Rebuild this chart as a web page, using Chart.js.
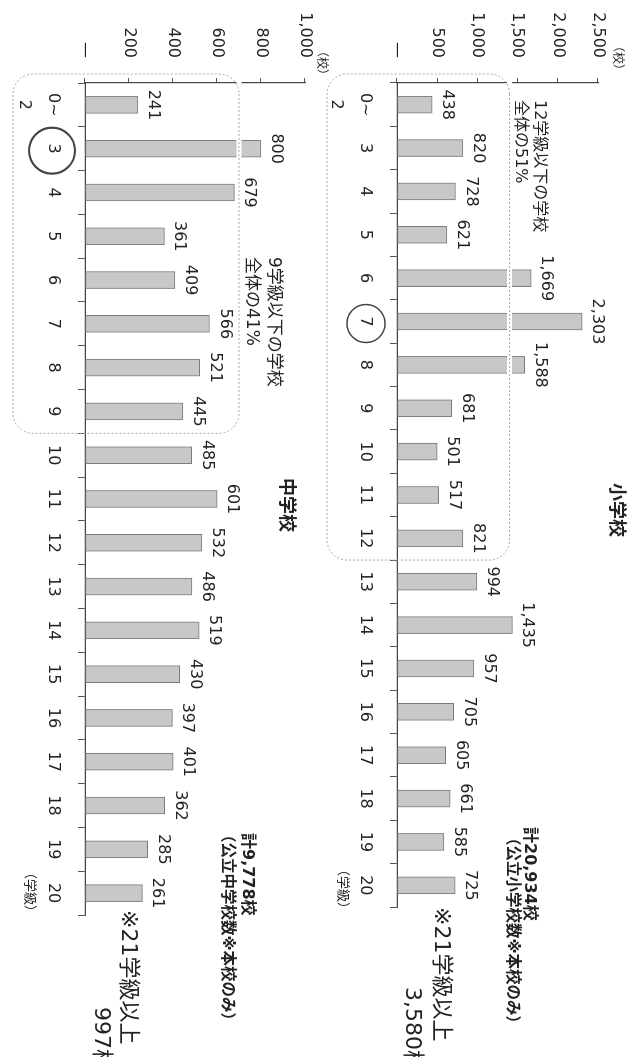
<!DOCTYPE html>
<html lang="ja">
<head>
<meta charset="utf-8">
<title>学級数別学校数</title>
<script src="https://cdn.jsdelivr.net/npm/chart.js@4.4.1/dist/chart.umd.min.js"></script>
<style>
  html, body { margin: 0; padding: 0; background: #fff; overflow: hidden; }
  body { width: 637px; height: 1057px; position: relative; }
  /* the chart is drawn upright (1057 x 637) and turned a quarter clockwise */
  #page {
    position: absolute; left: 0; top: 0; width: 1057px; height: 637px;
    transform-origin: 0 0; transform: translate(637px, 0) rotate(90deg);
    font-family: "DejaVu Sans", "Noto Sans CJK JP", sans-serif; color: #222;
  }
  #page canvas { position: absolute; left: 0; top: 0; }
  .t { position: absolute; white-space: nowrap; line-height: 1; }
  .b { font-weight: bold; }
</style>
</head>
<body>
<div id="page">
  <canvas id="elemChart" width="1057" height="637"></canvas>
  <canvas id="juniorChart" width="1057" height="637"></canvas>

  <div class="t" style="left:40px;top:13px;font-size:12px;">（校）</div>
  <div class="t b" style="left:483px;top:11px;font-size:18px;">小学校</div>
  <div class="t" style="left:100px;top:89px;font-size:16px;">12学級以下の学校</div>
  <div class="t" style="left:100px;top:108px;font-size:16px;">全体の51%</div>
  <div class="t b" style="left:827px;top:99px;font-size:16px;">計20,934校</div>
  <div class="t b" style="left:830px;top:117px;font-size:15.5px;">（公立小学校数※本校のみ）</div>
  <div class="t" style="left:907px;top:184px;font-size:22px;">※21学級以上</div>
  <div class="t" style="left:987px;top:213px;font-size:22px;">3,580校</div>
  <div class="t" style="left:863px;top:287px;font-size:13px;">（学級）</div>

  <div class="t" style="left:45px;top:309px;font-size:12px;">（校）</div>
  <div class="t b" style="left:478px;top:341px;font-size:18px;">中学校</div>
  <div class="t" style="left:257px;top:354px;font-size:17px;">9学級以下の学校</div>
  <div class="t" style="left:257px;top:376px;font-size:17px;">全体の41%</div>
  <div class="t b" style="left:833px;top:381px;font-size:16px;">計9,778校</div>
  <div class="t b" style="left:827px;top:402px;font-size:15.5px;">（公立中学校数※本校のみ）</div>
  <div class="t" style="left:910px;top:497px;font-size:22px;">※21学級以上</div>
  <div class="t" style="left:1007px;top:524px;font-size:22px;">997校</div>
  <div class="t" style="left:866px;top:600px;font-size:13px;">（学級）</div>
</div>

<script>
var categories = ['0~2', '3', '4', '5', '6', '7', '8', '9', '10', '11', '12', '13', '14', '15', '16', '17', '18', '19', '20'];
var elementaryValues = [438, 820, 728, 621, 1669, 2303, 1588, 681, 501, 517, 821, 994, 1435, 957, 705, 605, 661, 585, 725];
var juniorValues = [241, 800, 679, 361, 409, 566, 521, 445, 485, 601, 532, 486, 519, 430, 397, 401, 362, 285, 261];
var elementaryTicks = [0, 500, 1000, 1500, 2000, 2500];
var juniorTicks = [0, 200, 400, 600, 800, 1000];

var FONT = '"DejaVu Sans", "Noto Sans CJK JP", sans-serif';
Chart.defaults.font.family = FONT;
Chart.defaults.color = '#222';

function fmt(n) {
  return Number(n).toLocaleString('en-US');
}

// value labels, the dotted group box and the circled category
var annotate = {
  id: 'annotate',
  afterDatasetsDraw: function(chart) {
    var o = chart.options.plugins.annotate;
    var ctx = chart.ctx;
    var xs = chart.scales.x, ys = chart.scales.y;
    var area = chart.chartArea;
    var step = xs.getPixelForValue(1) - xs.getPixelForValue(0);

    var left = area.left - 9;
    var right = xs.getPixelForValue(categories.indexOf(o.boxLast)) + step / 2;
    var top = ys.getPixelForValue(o.boxTop);
    var bottom = area.bottom + o.boxBelow;
    var r = 20;

    ctx.save();
    ctx.strokeStyle = '#fff';
    ctx.lineWidth = 5;
    ctx.beginPath();
    ctx.moveTo(left - 4, top);
    ctx.lineTo(right - r, top);
    ctx.stroke();

    ctx.strokeStyle = '#a8a8a8';
    ctx.lineWidth = 1;
    ctx.setLineDash([2, 2]);
    ctx.beginPath();
    ctx.roundRect(left, top, right - left, bottom - top, r);
    ctx.stroke();
    ctx.setLineDash([]);

    ctx.fillStyle = '#222';
    ctx.font = '16px ' + FONT;
    ctx.textAlign = 'center';
    ctx.textBaseline = 'alphabetic';
    var data = chart.data.datasets[0].data;
    chart.getDatasetMeta(0).data.forEach(function(bar, i) {
      ctx.fillText(fmt(data[i]), bar.x, bar.y - 11);
    });

    ctx.strokeStyle = '#444';
    ctx.lineWidth = o.circleWidth;
    ctx.beginPath();
    ctx.arc(xs.getPixelForValue(categories.indexOf(o.circled)) + 2, area.bottom + o.circleDy, o.circleR, 0, Math.PI * 2);
    ctx.stroke();
    ctx.restore();
  }
};

function makeChart(id, values, ticks, padding, annotateOpts) {
  var ctx = document.getElementById(id).getContext('2d');
  return new Chart(ctx, {
    type: 'bar',
    data: {
      labels: categories,
      datasets: [{
        data: values,
        backgroundColor: '#c8c8c8',
        borderColor: '#7a7a7a',
        borderWidth: 1,
        borderSkipped: false,
        barThickness: 17
      }]
    },
    options: {
      responsive: false,
      animation: false,
      events: [],
      layout: { padding: padding },
      plugins: {
        legend: { display: false },
        tooltip: { enabled: false },
        annotate: annotateOpts
      },
      scales: {
        x: {
          offset: true,
          grid: { drawOnChartArea: false, drawTicks: true, tickLength: 7, color: '#555', offset: true },
          border: { display: true, color: '#444', width: 1.2 },
          ticks: {
            autoSkip: false, maxRotation: 0, minRotation: 0, padding: 10,
            color: '#222',
            font: { size: 16, lineHeight: '29px' },
            callback: function(v, i) {
              var l = categories[i];
              return l === '0~2' ? ['0~', '2'] : l;
            }
          },
          afterFit: function(s) { s.height = 70; }
        },
        y: {
          min: ticks[0],
          max: ticks[ticks.length - 1],
          grid: { drawOnChartArea: false, drawTicks: true, tickLength: 5, color: '#555' },
          border: { display: true, color: '#444', width: 1.2 },
          afterBuildTicks: function(s) {
            s.ticks = ticks.map(function(t) { return { value: t }; });
          },
          ticks: {
            padding: 20,
            color: '#222',
            font: { size: 16 },
            callback: function(v) { return v === 0 ? '—' : fmt(v); }
          },
          afterFit: function(s) { s.width = 83; }
        }
      }
    },
    plugins: [annotate]
  });
}

makeChart('elemChart', elementaryValues, elementaryTicks,
  { left: 0, right: 150, top: 39, bottom: 327 },
  { boxLast: '12', boxTop: 1400, boxBelow: 70, circled: '7', circleDy: 31, circleR: 19, circleWidth: 1.5 });

makeChart('juniorChart', juniorValues, juniorTicks,
  { left: 0, right: 142, top: 332, bottom: 15 },
  { boxLast: '9', boxTop: 700, boxBelow: 72, circled: '3', circleDy: 33, circleR: 23, circleWidth: 2.2 });
</script>
</body>
</html>
